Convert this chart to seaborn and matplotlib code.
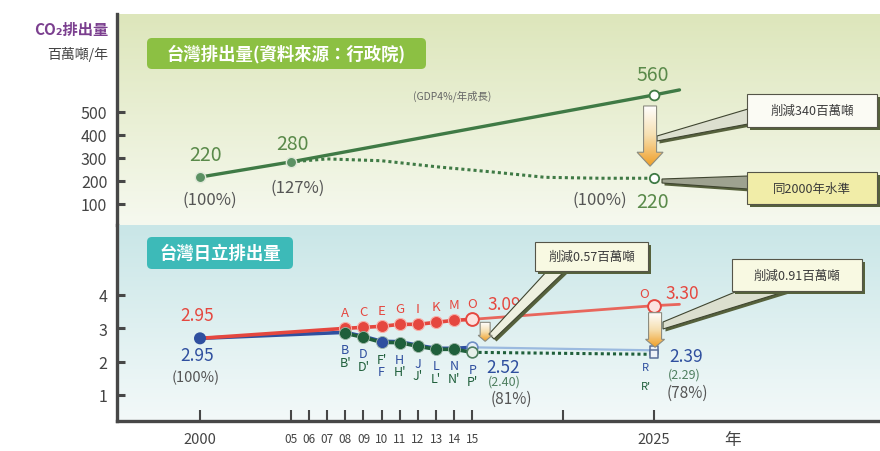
import numpy as np
import matplotlib
matplotlib.use("Agg")
import matplotlib.pyplot as plt
import seaborn as sns
from matplotlib.patches import FancyBboxPatch, Polygon, Rectangle
from matplotlib.colors import LinearSegmentedColormap

# ---- top panel: Taiwan emissions (million t / year) ----
top_years = [2000, 2005, 2025, 2026.4]
top_bau = [217, 283, 574, 596]
top_goal_years = [2005, 2007, 2010, 2013, 2016, 2019, 2022, 2025]
top_goal = [283, 296, 288, 262, 240, 216, 212, 212]
top_yticks = [100, 200, 300, 400, 500]

# ---- bottom panel: Hitachi Taiwan emissions ----
bot_years = [2000, 2008, 2009, 2010, 2011, 2012, 2013, 2014, 2015]
red_vals = [2.70, 3.00, 3.03, 3.06, 3.12, 3.12, 3.18, 3.24, 3.27]
blue_vals = [2.70, 2.88, 2.76, 2.61, 2.60, 2.49, 2.40, 2.40, 2.43]
green_years = [2008, 2009, 2010, 2011, 2012, 2013, 2014, 2015]
green_vals = [2.85, 2.73, 2.58, 2.57, 2.46, 2.37, 2.37, 2.28]
fut_years = [2015, 2025]
red_future = [3.27, 3.68]
blue_future = [2.43, 2.34]
green_future = [2.28, 2.22]
red_tail_years = [2025, 2026.4]
red_tail = [3.68, 3.72]
bot_yticks = [1, 2, 3, 4]

red_letters = ['A', 'C', 'E', 'G', 'I', 'K', 'M', 'O']
blue_letters = ['B', 'D', "F'", 'H', 'J', 'L', 'N', 'P']
green_letters = ["B'", "D'", 'F', "H'", "J'", "L'", "N'", "P'"]

x_ticks = [2000, 2005, 2006, 2007, 2008, 2009, 2010, 2011, 2012, 2013, 2014, 2015, 2020, 2025]
x_labels = ['2000', '05', '06', '07', '08', '09', '10', '11', '12', '13', '14', '15', '', '2025']

RED = '#e5473f'
BLUE = '#2f4f9f'
GREEN = '#1f5f3b'
TGREEN = '#3f7a45'
LBL_GREEN = '#5a8a4a'
GRAY = '#555555'
SPINE = '#474747'

sns.set_theme(style="white")
plt.rcParams['font.family'] = ['Noto Sans CJK TC', 'DejaVu Sans']

W, H = 880, 452
fig = plt.figure(figsize=(8.8, 4.52), dpi=100)


def fr(x0, y0, x1, y1):
    return [x0 / W, 1 - y1 / H, (x1 - x0) / W, (y1 - y0) / H]


ax_top = fig.add_axes(fr(117, 15, 880, 226))
ax_bot = fig.add_axes(fr(117, 226, 880, 422))


def panel_bg(ax, c_top, c_bot):
    cmap = LinearSegmentedColormap.from_list('bg', [c_top, c_bot])
    grad = np.linspace(0, 1, 256).reshape(-1, 1)
    ax.imshow(grad, cmap=cmap, aspect='auto', extent=[0, 1, 0, 1],
              transform=ax.transAxes, origin='upper', zorder=0)


panel_bg(ax_top, '#dde6bb', '#f6f9ef')
panel_bg(ax_bot, '#c9e6e7', '#f3f9f9')

# ---- top panel marks ----
sns.lineplot(x=top_years, y=top_bau, ax=ax_top, color=TGREEN, linewidth=2.4,
             estimator=None, sort=False, zorder=3)
sns.lineplot(x=top_goal_years, y=top_goal, ax=ax_top, color=TGREEN, linewidth=2.2,
             linestyle=(0, (1, 1)), estimator=None, sort=False, zorder=3)
sns.scatterplot(x=top_years[:2], y=top_bau[:2], ax=ax_top, color='#5b9163', s=55,
                edgecolor='#dfe8d8', linewidth=1, zorder=4)
sns.scatterplot(x=[top_years[2]], y=[top_bau[2]], ax=ax_top, color='white', s=50,
                edgecolor=TGREEN, linewidth=1.3, zorder=4)
sns.scatterplot(x=[top_goal_years[-1]], y=[top_goal[-1]], ax=ax_top, color='white', s=45,
                edgecolor=TGREEN, linewidth=1.3, zorder=4)

# ---- bottom panel marks ----
sns.lineplot(x=fut_years, y=blue_future, ax=ax_bot, color='#9bbadf', linewidth=1.6,
             estimator=None, sort=False, zorder=2)
sns.lineplot(x=fut_years, y=green_future, ax=ax_bot, color=GREEN, linewidth=2.2,
             linestyle=(0, (1, 1)), estimator=None, sort=False, zorder=2)
sns.lineplot(x=fut_years + red_tail_years[1:], y=red_future + red_tail[1:], ax=ax_bot,
             color='#e8665c', linewidth=2.0, estimator=None, sort=False, zorder=2)
sns.lineplot(x=bot_years, y=blue_vals, ax=ax_bot, color=BLUE, linewidth=2.6,
             estimator=None, sort=False, zorder=3)
sns.lineplot(x=bot_years, y=red_vals, ax=ax_bot, color=RED, linewidth=2.6,
             estimator=None, sort=False, zorder=3)
sns.lineplot(x=green_years, y=green_vals, ax=ax_bot, color=GREEN, linewidth=2.6,
             estimator=None, sort=False, zorder=3)

dot_cols = [GREEN, GREEN, BLUE, GREEN, GREEN, GREEN, GREEN]
sns.scatterplot(x=[bot_years[0]], y=[blue_vals[0]], ax=ax_bot, color=BLUE, s=75,
                edgecolor='none', zorder=5)
sns.scatterplot(x=bot_years[1:-1], y=red_vals[1:-1], ax=ax_bot, color=RED, s=75,
                edgecolor='#f7b0aa', linewidth=0.8, zorder=5)
for col in (GREEN, BLUE):
    xs = [x for x, c in zip(green_years[:-1], dot_cols) if c == col]
    ys = [y for y, c in zip(green_vals[:-1], dot_cols) if c == col]
    sns.scatterplot(x=xs, y=ys, ax=ax_bot, color=col, s=75, edgecolor='#9fb8a8',
                    linewidth=0.6, zorder=5)
sns.scatterplot(x=[2015, 2025], y=[red_vals[-1], red_future[-1]], ax=ax_bot, color='#fbe3e0',
                s=85, edgecolor=RED, linewidth=1.4, zorder=5)
sns.scatterplot(x=[2015], y=[blue_vals[-1]], ax=ax_bot, color='#e6eef8', s=60,
                edgecolor='#6f8fc4', linewidth=1.2, zorder=5)
sns.scatterplot(x=[2015], y=[green_vals[-1]], ax=ax_bot, color='#e6f0ea', s=60,
                edgecolor='#4f7f60', linewidth=1.2, zorder=5)
sns.scatterplot(x=[2025, 2025], y=[blue_future[-1], green_future[-1]], ax=ax_bot,
                color='#eef2f8', marker='s', s=40, edgecolor='#5a6f9a', linewidth=1.1, zorder=5)

# ---- axes styling ----
for ax in (ax_top, ax_bot):
    ax.set_xlim(1995.43, 2037.44)
    for s in ('top', 'right', 'bottom', 'left'):
        ax.spines[s].set_visible(False)
    ax.spines['left'].set_visible(True)
    ax.spines['left'].set_color(SPINE)
    ax.spines['left'].set_linewidth(2.4)
    ax.set_xlabel('')
    ax.set_ylabel('')
    ax.tick_params(axis='y', direction='in', length=6, width=2.2, color=SPINE,
                   labelsize=11.5, labelcolor='#444444', pad=7, left=True)
ax_top.set_ylim(8.7, 926)
ax_top.set_yticks(top_yticks)
ax_top.set_xticks([])
ax_bot.set_ylim(0.22, 6.1)
ax_bot.set_yticks(bot_yticks)
ax_bot.spines['bottom'].set_visible(True)
ax_bot.spines['bottom'].set_color(SPINE)
ax_bot.spines['bottom'].set_linewidth(2.4)
ax_bot.set_xticks(x_ticks)
ax_bot.set_xticklabels(x_labels)
ax_bot.tick_params(axis='x', direction='in', length=8, width=1.5, color=SPINE,
                   labelcolor='#444444', pad=8, bottom=True)
for lab in ax_bot.get_xticklabels():
    lab.set_fontsize(10.5 if len(lab.get_text()) == 4 else 8.5)


def note(ax, txt, xy, off, color, size, weight='normal'):
    ax.annotate(txt, xy=xy, xytext=off, textcoords='offset points', ha='center',
                va='center', color=color, fontsize=size, fontweight=weight, zorder=7)


# top labels
note(ax_top, '220', (top_years[0], top_bau[0]), (4, 16), LBL_GREEN, 14)
note(ax_top, '(100%)', (top_years[0], top_bau[0]), (7, -16), GRAY, 12)
note(ax_top, '280', (top_years[1], top_bau[1]), (1, 13), LBL_GREEN, 14)
note(ax_top, '(127%)', (top_years[1], top_bau[1]), (5, -18), GRAY, 12)
note(ax_top, '560', (top_years[2], top_bau[2]), (-1, 15), LBL_GREEN, 14)
note(ax_top, '(100%)', (top_goal_years[-1], top_goal[-1]), (-39, -15), GRAY, 12)
note(ax_top, '220', (top_goal_years[-1], top_goal[-1]), (-1, -17), LBL_GREEN, 14)
ax_top.text(2013.9, 574, '(GDP4%/年成長)', ha='center', va='center', color='#666666',
            fontsize=7.5, zorder=7)

# bottom labels
note(ax_bot, '2.95', (bot_years[0], red_vals[0]), (-2, 17), RED, 12.5)
note(ax_bot, '2.95', (bot_years[0], blue_vals[0]), (-2, -12), BLUE, 12.5)
note(ax_bot, '(100%)', (bot_years[0], blue_vals[0]), (-3, -28), GRAY, 10.5)
for x, y, t in zip(bot_years[1:], red_vals[1:], red_letters):
    note(ax_bot, t, (x, y), (0, 11.5), RED, 9.5)
blue_row_cols = [BLUE, BLUE, GREEN, BLUE, BLUE, BLUE, BLUE, BLUE]
green_row_cols = [GREEN, GREEN, BLUE, GREEN, GREEN, GREEN, GREEN, GREEN]
for x, y, t, c in zip(green_years, green_vals, blue_letters, blue_row_cols):
    note(ax_bot, t, (x, y), (0, -12), c, 9)
for x, y, t, c in zip(green_years, green_vals, green_letters, green_row_cols):
    note(ax_bot, t, (x, y), (0, -21), c, 9)
note(ax_bot, '3.09', (2015, red_vals[-1]), (23, 11), RED, 12.5)
note(ax_bot, '2.52', (2015, blue_vals[-1]), (22, -14), BLUE, 12.5)
note(ax_bot, '(2.40)', (2015, blue_vals[-1]), (23, -24), '#4f7f60', 9)
note(ax_bot, '(81%)', (2015, blue_vals[-1]), (28, -37), GRAY, 11)
note(ax_bot, 'O', (2025, red_future[-1]), (-7, 9), RED, 9.5)
note(ax_bot, '3.30', (2025, red_future[-1]), (20, 9), RED, 12.5)
note(ax_bot, '2.39', (2025, blue_future[-1]), (23, -4), BLUE, 12.5)
note(ax_bot, '(2.29)', (2025, blue_future[-1]), (22, -17), '#4f7f60', 9)
note(ax_bot, 'R', (2025, blue_future[-1]), (-6, -12), BLUE, 8)
note(ax_bot, "R'", (2025, blue_future[-1]), (-6, -26), GREEN, 8)
note(ax_bot, '(78%)', (2025, blue_future[-1]), (24, -30), GRAY, 11)

# ---- overlay in pixel units for the decorations ----
ov = fig.add_axes([0, 0, 1, 1], zorder=5)
ov.axis('off')


def to_px(ax, x, y):
    px, py = ax.transData.transform((x, y))
    return px, H - py


def down_arrow(x, y0, y1, shaft_w, head_w, head_h):
    verts = [(x - shaft_w / 2, y0), (x + shaft_w / 2, y0), (x + shaft_w / 2, y1 - head_h),
             (x + head_w / 2, y1 - head_h), (x, y1), (x - head_w / 2, y1 - head_h),
             (x - shaft_w / 2, y1 - head_h)]
    poly = Polygon(verts, closed=True, fc='none', ec='#8c8c80', lw=0.8, zorder=7)
    ov.add_patch(poly)
    cmap = LinearSegmentedColormap.from_list('arr', ['#ffffff', '#f6dfb0', '#f0a02a'])
    grad = np.linspace(0, 1, 64).reshape(-1, 1)
    im = ov.imshow(grad, cmap=cmap, aspect='auto', origin='upper', zorder=6,
                   extent=[x - head_w / 2, x + head_w / 2, y1, y0])
    im.set_clip_path(poly)


def callout(x0, y0, x1, y1, txt, fc, pointer, pfc):
    sh = Polygon([(px + 2.5, py + 2.5) for px, py in pointer], closed=True,
                 fc='#56613c', ec='none', zorder=6)
    ov.add_patch(sh)
    ov.add_patch(Polygon(pointer, closed=True, fc=pfc, ec='#3f4530', lw=0.8, zorder=6))
    ov.add_patch(Rectangle((x0 + 3, y0 + 3), x1 - x0, y1 - y0, fc='#56613c', ec='none', zorder=6))
    ov.add_patch(Rectangle((x0, y0), x1 - x0, y1 - y0, fc=fc, ec='#555548', lw=0.8, zorder=7))
    ov.text((x0 + x1) / 2, (y0 + y1) / 2, txt, ha='center', va='center', fontsize=9,
            color='#3a3a3a', zorder=8)


ax_x25, y560 = to_px(ax_top, 2025, top_bau[2])
_, y220 = to_px(ax_top, 2025, top_goal[-1])
down_arrow(ax_x25 - 4, y560 + 11, y220 - 12, 13, 26, 14)
x15, yr15 = to_px(ax_bot, 2015.7, red_vals[-1])
_, yb15 = to_px(ax_bot, 2015.7, blue_vals[-1])
down_arrow(x15, yr15 + 3, yb15 - 6, 10, 14, 6)
x25, yr25 = to_px(ax_bot, 2025, red_future[-1])
_, yb25 = to_px(ax_bot, 2025, blue_future[-1])
down_arrow(x25 + 1, yr25 + 7, yb25 - 3, 13, 19, 8)

callout(747, 95, 877, 128, '削減340百萬噸', '#fbfbf4',
        [(657, 137), (748, 110), (748, 125), (657, 142)], '#dcdfcf')
callout(747, 173, 877, 205, '同2000年水準', '#f1eda8',
        [(662, 180), (748, 177), (748, 190), (662, 184)], '#9ea290')
callout(535, 243, 648, 272, '削減0.57百萬噸', '#f8f9e2',
        [(548, 271), (566, 271), (494, 340), (489, 335)], '#eef0e0')
callout(732, 260, 862, 292, '削減0.91百萬噸', '#f8f9e2',
        [(740, 291), (790, 291), (663, 330), (663, 323)], '#dcdfcf')

# panel titles
ov.add_patch(FancyBboxPatch((147, 39), 279, 31, boxstyle='round,pad=0,rounding_size=5',
                            fc='#8cc043', ec='none', zorder=7))
ov.text(286.5, 54.5, '台灣排出量(資料來源：行政院)', ha='center', va='center', color='white',
        fontsize=12.5, fontweight='bold', zorder=8)
ov.add_patch(FancyBboxPatch((147, 238), 146, 32, boxstyle='round,pad=0,rounding_size=5',
                            fc='#3dbab8', ec='none', zorder=7))
ov.text(220, 254, '台灣日立排出量', ha='center', va='center', color='white',
        fontsize=12.5, fontweight='bold', zorder=8)

ov.text(108, 30, 'CO₂排出量', ha='right', va='center', color='#7b3f8f', fontsize=11,
        fontweight='bold', zorder=8)
ov.text(108, 55, '百萬噸/年', ha='right', va='center', color='#444444', fontsize=10, zorder=8)
ov.text(733, 441, '年', ha='center', va='center', color='#444444', fontsize=12, zorder=8)

ov.set_xlim(0, W)
ov.set_ylim(H, 0)

fig.savefig('out.png', dpi=100)
